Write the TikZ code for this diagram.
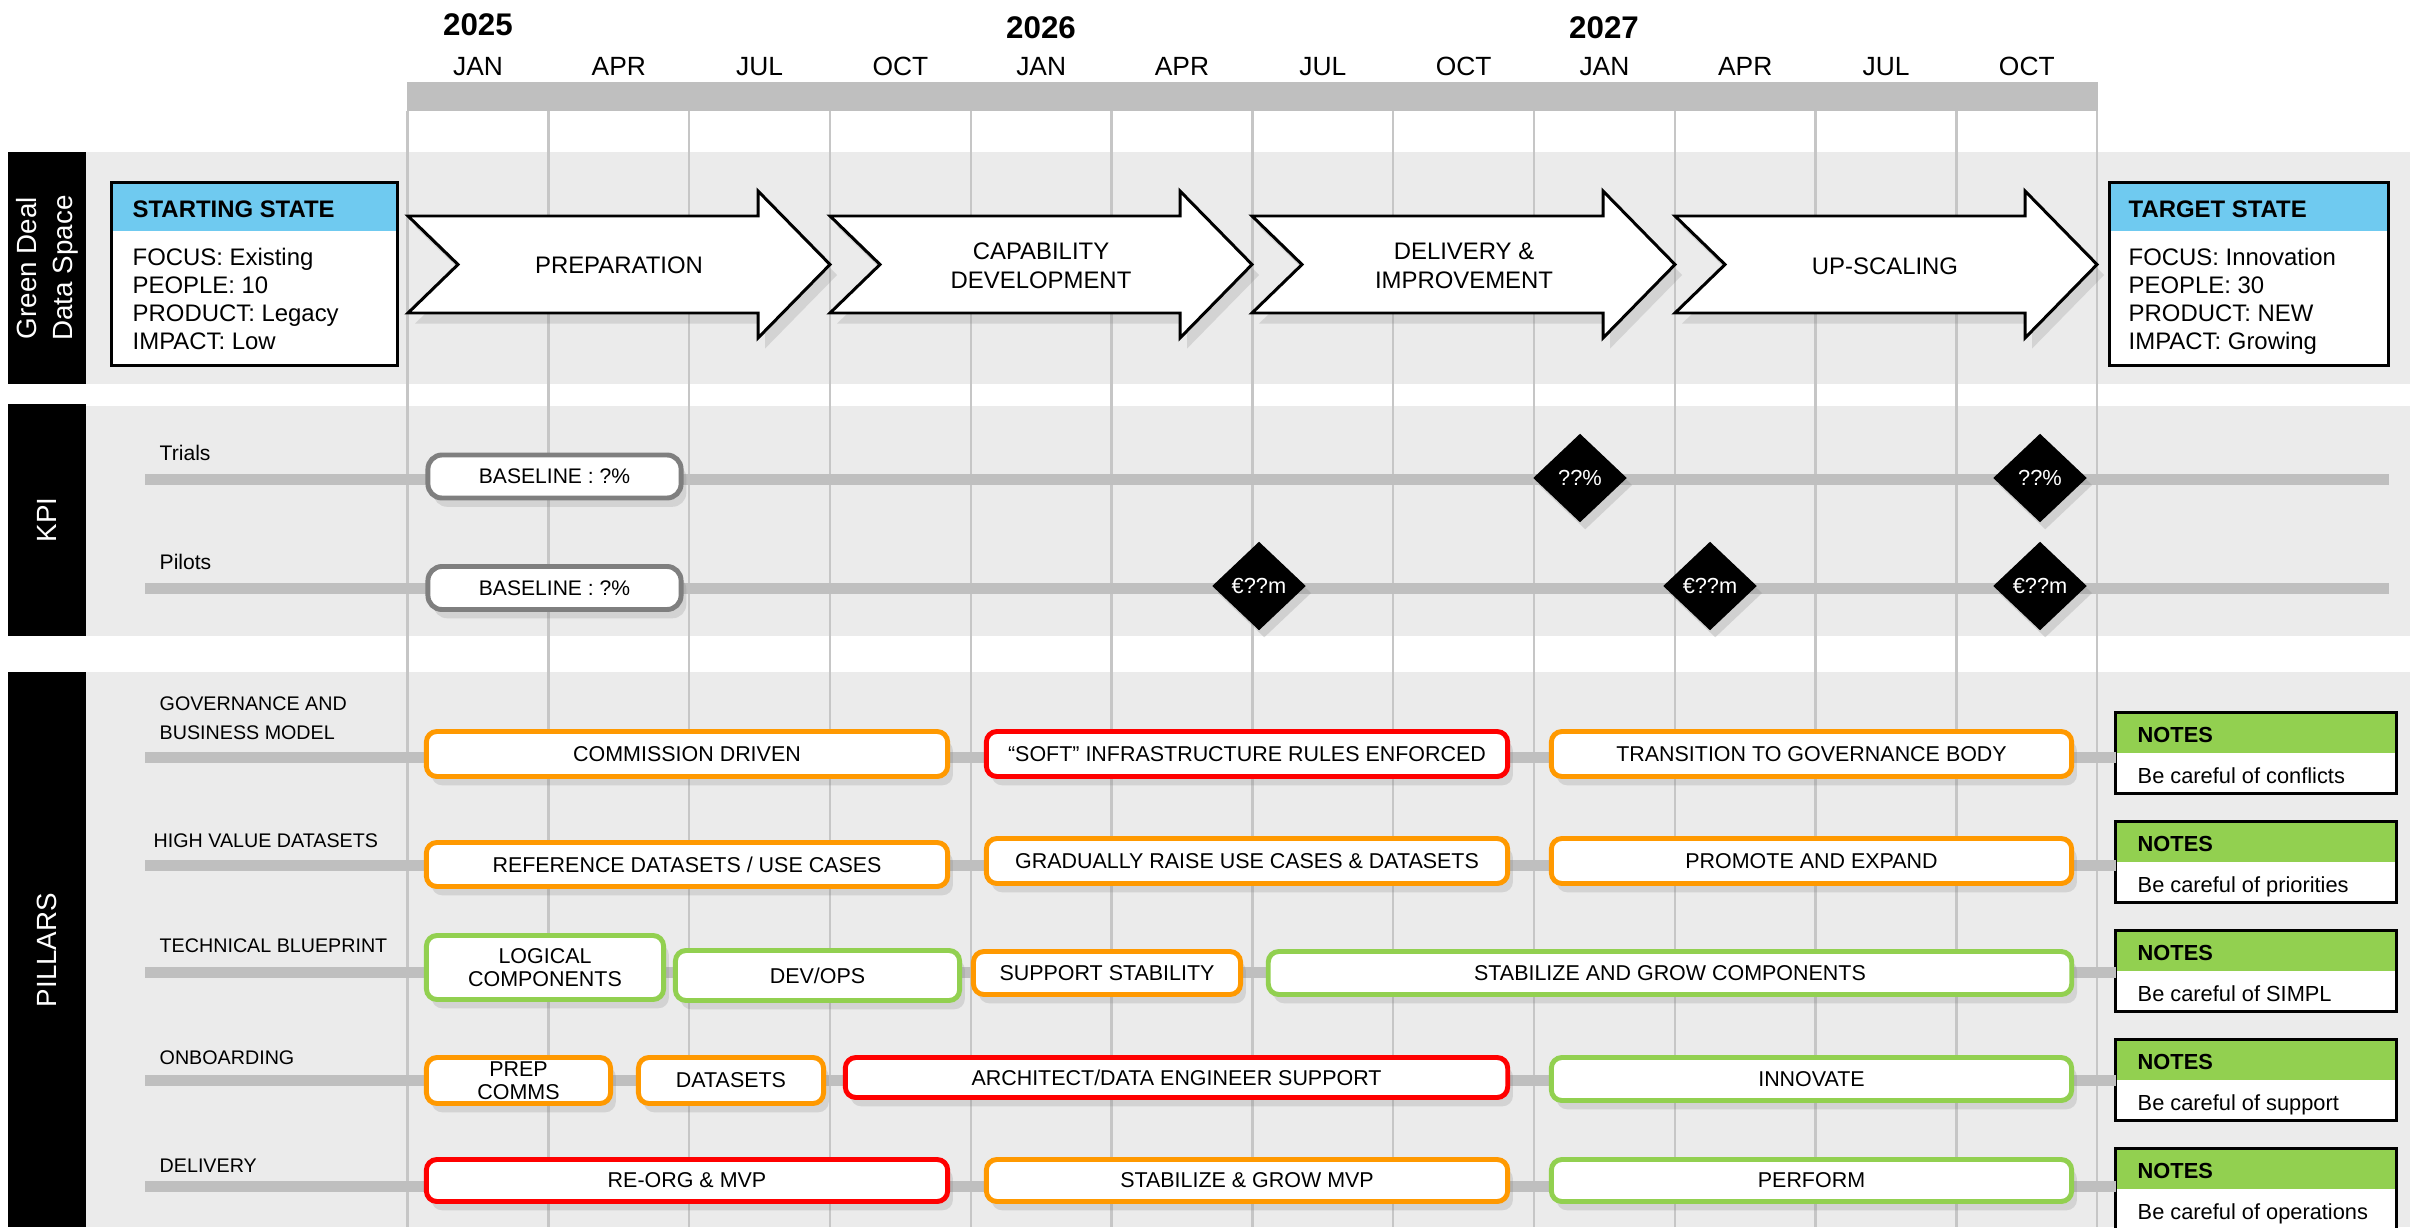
\documentclass[tikz,border=0pt]{standalone}
\usepackage{fontspec}
\setmainfont{Liberation Sans}
\usetikzlibrary{shapes.geometric,shadows}
\definecolor{bandGrey}{RGB}{235,235,235}
\definecolor{trackGrey}{RGB}{191,191,191}
\definecolor{gridGrey}{RGB}{198,198,198}
\definecolor{frameGrey}{RGB}{127,127,127}
\definecolor{stateBlue}{RGB}{111,202,240}
\definecolor{noteGreen}{RGB}{146,208,80}
\definecolor{boxOrange}{RGB}{255,153,0}
\definecolor{boxRed}{RGB}{255,0,0}
\definecolor{boxGreen}{RGB}{146,208,80}

\begin{document}
\begin{tikzpicture}[x=0.01cm, y=-0.01cm,
    sidelabel/.style={text=white, rotate=90, align=center, font=\fontsize{7.9}{10.2}\selectfont},
    gridline/.style={draw=gridGrey, line width=0.7pt},
    track/.style={draw=trackGrey, line width=0.11cm},
    yearlabel/.style={font=\bfseries\fontsize{8.9}{10}\selectfont},
    monthlabel/.style={font=\fontsize{7.5}{9}\selectfont},
    phasearrow/.style={draw=black, line width=0.85pt, fill=white, drop shadow={shadow xshift=2pt, shadow yshift=-3pt, opacity=0.22}},
    phaselabel/.style={align=center, font=\fontsize{6.8}{8.25}\selectfont},
    statetext/.style={anchor=base west, inner sep=0pt, font=\fontsize{6.8}{8}\selectfont},
    statetitle/.style={statetext, font=\bfseries\fontsize{6.8}{8}\selectfont},
    rowlabel/.style={anchor=base west, inner sep=0pt, font=\fontsize{5.6}{7}\selectfont},
    kpilabel/.style={anchor=base west, inner sep=0pt, font=\fontsize{6}{7}\selectfont},
    pillarbox/.style={draw, line width=1.4pt, fill=white, rounded corners=3pt, inner sep=0pt, align=center,
        font=\fontsize{6.1}{6.7}\selectfont, drop shadow={shadow xshift=1.5pt, shadow yshift=-2.5pt, opacity=0.22}},
    orangebox/.style={pillarbox, draw=boxOrange},
    redbox/.style={pillarbox, draw=boxRed},
    greenbox/.style={pillarbox, draw=boxGreen},
    basebox/.style={pillarbox, draw=frameGrey, rounded corners=4pt, font=\fontsize{6}{7}\selectfont},
    kpidiamond/.style={diamond, fill=black, text=white, inner sep=0pt, minimum width=0.94cm, minimum height=0.89cm,
        font=\fontsize{6.2}{7}\selectfont, drop shadow={shadow xshift=1.5pt, shadow yshift=-2pt, opacity=0.25}},
    notebox/.style={fill=white, inner sep=0pt, minimum width=2.79cm, minimum height=0.79cm},
    notetitle/.style={anchor=base west, inner sep=0pt, font=\bfseries\fontsize{6.2}{7}\selectfont},
    notetext/.style={anchor=base west, inner sep=0pt, font=\fontsize{6.2}{7}\selectfont},
    frame/.style={draw=black, line width=0.85pt}
    ]
    \useasboundingbox (0,0) rectangle (2412,1227);
    \clip (0,0) rectangle (2412,1227);
    \fill[white] (0,0) rectangle (2412,1227);

    % background bands
    \fill[bandGrey] (86,152) rectangle (2410,384);
    \fill[bandGrey] (86,406) rectangle (2410,636);
    \fill[bandGrey] (86,672) rectangle (2410,1227);
    \fill[black] (8,152) rectangle (86,384);
    \fill[black] (8,404) rectangle (86,636);
    \fill[black] (8,672) rectangle (86,1227);
    \node[sidelabel] (gdsLabel) at (47,268) {Green Deal\\Data Space};
    \node[sidelabel] (kpiLabel) at (47,520) {KPI};
    \node[sidelabel] (pillarsLabel) at (47,950) {PILLARS};

    % month grid
    \draw[gridline] (407.6,111) -- (407.6,1227);
    \draw[gridline] (548.4,111) -- (548.4,1227);
    \draw[gridline] (689.2,111) -- (689.2,1227);
    \draw[gridline] (830.0,111) -- (830.0,1227);
    \draw[gridline] (970.8,111) -- (970.8,1227);
    \draw[gridline] (1111.6,111) -- (1111.6,1227);
    \draw[gridline] (1252.4,111) -- (1252.4,1227);
    \draw[gridline] (1393.2,111) -- (1393.2,1227);
    \draw[gridline] (1534.0,111) -- (1534.0,1227);
    \draw[gridline] (1674.8,111) -- (1674.8,1227);
    \draw[gridline] (1815.6,111) -- (1815.6,1227);
    \draw[gridline] (1956.4,111) -- (1956.4,1227);
    \draw[gridline] (2097.2,111) -- (2097.2,1227);
    \fill[trackGrey] (406.6,82) rectangle (2098.2,111);

    % years and months
    \node[yearlabel] (y2025) at (478,25) {2025};
    \node[yearlabel] (y2026) at (1041,28) {2026};
    \node[yearlabel] (y2027) at (1604,28) {2027};
    \node[monthlabel] (m01) at (478.0,66.5) {JAN};
    \node[monthlabel] (m02) at (618.8,66.5) {APR};
    \node[monthlabel] (m03) at (759.6,66.5) {JUL};
    \node[monthlabel] (m04) at (900.4,66.5) {OCT};
    \node[monthlabel] (m05) at (1041.2,66.5) {JAN};
    \node[monthlabel] (m06) at (1182.0,66.5) {APR};
    \node[monthlabel] (m07) at (1322.8,66.5) {JUL};
    \node[monthlabel] (m08) at (1463.6,66.5) {OCT};
    \node[monthlabel] (m09) at (1604.4,66.5) {JAN};
    \node[monthlabel] (m10) at (1745.2,66.5) {APR};
    \node[monthlabel] (m11) at (1886.0,66.5) {JUL};
    \node[monthlabel] (m12) at (2026.8,66.5) {OCT};

    % phase arrows
    \draw[phasearrow] (408,216) -- (758,216) -- (758,191) -- (830,264.5) -- (758,338) -- (758,313) -- (408,313) -- (458,264.5) -- cycle;
    \draw[phasearrow] (830,216) -- (1180,216) -- (1180,191) -- (1252,264.5) -- (1180,338) -- (1180,313) -- (830,313) -- (880,264.5) -- cycle;
    \draw[phasearrow] (1252,216) -- (1603,216) -- (1603,191) -- (1675,264.5) -- (1603,338) -- (1603,313) -- (1252,313) -- (1302,264.5) -- cycle;
    \draw[phasearrow] (1675,216) -- (2025,216) -- (2025,191) -- (2097,264.5) -- (2025,338) -- (2025,313) -- (1675,313) -- (1725,264.5) -- cycle;
    \node[phaselabel] (prepLabel) at (619,265) {PREPARATION};
    \node[phaselabel] (capLabel) at (1041,266) {CAPABILITY\\DEVELOPMENT};
    \node[phaselabel] (delivLabel) at (1464,266) {DELIVERY \&\\IMPROVEMENT};
    \node[phaselabel] (scaleLabel) at (1885,266) {UP-SCALING};

    % starting state
    \node[notebox, minimum width=2.84cm, minimum height=1.81cm] (startState) at (254.5,274) {};
    \fill[stateBlue] (112.5,183.5) rectangle (396.5,231);
    \draw[frame] (startState.north west) rectangle (startState.south east);
    \node[statetitle] (startTitle) at (132,217) {STARTING STATE};
    \node[statetext] (startFocus) at (132,265) {FOCUS: Existing};
    \node[statetext] (startPeople) at (132,293.5) {PEOPLE: 10};
    \node[statetext] (startProduct) at (132,321.5) {PRODUCT: Legacy};
    \node[statetext] (startImpact) at (132,349.5) {IMPACT: Low};

    % target state
    \node[notebox, minimum width=2.775cm, minimum height=1.81cm] (targetState) at (2248.75,274) {};
    \fill[stateBlue] (2110,183.5) rectangle (2387.5,231);
    \draw[frame] (targetState.north west) rectangle (targetState.south east);
    \node[statetitle] (targetTitle) at (2128,217) {TARGET STATE};
    \node[statetext] (targetFocus) at (2128,265) {FOCUS: Innovation};
    \node[statetext] (targetPeople) at (2128,293.5) {PEOPLE: 30};
    \node[statetext] (targetProduct) at (2128,321.5) {PRODUCT: NEW};
    \node[statetext] (targetImpact) at (2128,349.5) {IMPACT: Growing};

    % KPI
    \node[kpilabel] (trialsLabel) at (159,460) {Trials};
    \node[kpilabel] (pilotsLabel) at (159,569) {Pilots};
    \coordinate (trialsStart) at (145,479);
    \coordinate (trialsEnd) at (2389,479);
    \coordinate (pilotsStart) at (145,588);
    \coordinate (pilotsEnd) at (2389,588);
    \draw[track] (trialsStart) -- (trialsEnd);
    \draw[track] (pilotsStart) -- (pilotsEnd);
    \node[basebox, minimum width=2.53cm, minimum height=0.43cm] (trialsBase) at (554.5,476.5) {BASELINE : ?\%};
    \node[basebox, minimum width=2.53cm, minimum height=0.43cm] (pilotsBase) at (554.5,588) {BASELINE : ?\%};
    \node[kpidiamond] (trialsMid) at (1580,478) {??\%};
    \node[kpidiamond] (trialsEndGoal) at (2040,478) {??\%};
    \node[kpidiamond] (pilotsFirst) at (1259,586) {€??m};
    \node[kpidiamond] (pilotsMid) at (1710,586) {€??m};
    \node[kpidiamond] (pilotsEndGoal) at (2040,586) {€??m};

    % notes
    \node[notebox] (govNote) at (2256,753) {};
    \fill[noteGreen] (2116.5,713.5) rectangle (2395.5,753);
    \draw[frame] (govNote.north west) rectangle (govNote.south east);
    \node[notetitle] (govNoteTitle) at (2137,742) {NOTES};
    \node[notetext] (govNoteText) at (2137,783) {Be careful of conflicts};

    \node[notebox] (hvdNote) at (2256,862) {};
    \fill[noteGreen] (2116.5,822.5) rectangle (2395.5,862);
    \draw[frame] (hvdNote.north west) rectangle (hvdNote.south east);
    \node[notetitle] (hvdNoteTitle) at (2137,851) {NOTES};
    \node[notetext] (hvdNoteText) at (2137,892) {Be careful of priorities};

    \node[notebox] (techNote) at (2256,971) {};
    \fill[noteGreen] (2116.5,931.5) rectangle (2395.5,971);
    \draw[frame] (techNote.north west) rectangle (techNote.south east);
    \node[notetitle] (techNoteTitle) at (2137,960) {NOTES};
    \node[notetext] (techNoteText) at (2137,1001) {Be careful of SIMPL};

    \node[notebox] (onbNote) at (2256,1080) {};
    \fill[noteGreen] (2116.5,1040.5) rectangle (2395.5,1080);
    \draw[frame] (onbNote.north west) rectangle (onbNote.south east);
    \node[notetitle] (onbNoteTitle) at (2137,1069) {NOTES};
    \node[notetext] (onbNoteText) at (2137,1110) {Be careful of support};

    \node[notebox] (delNote) at (2256,1189) {};
    \fill[noteGreen] (2116.5,1149.5) rectangle (2395.5,1189);
    \draw[frame] (delNote.north west) rectangle (delNote.south east);
    \node[notetitle] (delNoteTitle) at (2137,1178) {NOTES};
    \node[notetext] (delNoteText) at (2137,1219) {Be careful of operations};

    % pillar rows
    \node[rowlabel] (govLabel) at (159,710) {GOVERNANCE AND};
    \node[rowlabel] (govLabelB) at (159,739) {BUSINESS MODEL};
    \node[rowlabel] (hvdLabel) at (153,847) {HIGH VALUE DATASETS};
    \node[rowlabel] (techLabel) at (159,952) {TECHNICAL BLUEPRINT};
    \node[rowlabel] (onbLabel) at (159,1064) {ONBOARDING};
    \node[rowlabel] (delLabel) at (159,1172) {DELIVERY};
    \coordinate (govStart) at (145,757);
    \coordinate (hvdStart) at (145,865);
    \coordinate (techStart) at (145,972);
    \coordinate (onbStart) at (145,1080);
    \coordinate (delStart) at (145,1186);
    \draw[track] (govStart) -- (govStart -| govNote.west);
    \draw[track] (hvdStart) -- (hvdStart -| hvdNote.west);
    \draw[track] (techStart) -- (techStart -| techNote.west);
    \draw[track] (onbStart) -- (onbStart -| onbNote.west);
    \draw[track] (delStart) -- (delStart -| delNote.west);

    % governance and business model
    \node[orangebox, minimum width=5.21cm, minimum height=0.45cm] (govA) at (687,754) {COMMISSION DRIVEN};
    \node[redbox, minimum width=5.21cm, minimum height=0.45cm] (govB) at (1247,754) {“SOFT” INFRASTRUCTURE RULES ENFORCED};
    \node[orangebox, minimum width=5.20cm, minimum height=0.45cm] (govC) at (1811.5,754) {TRANSITION TO GOVERNANCE BODY};

    % high value datasets
    \node[orangebox, minimum width=5.21cm, minimum height=0.44cm] (hvdA) at (687,864.5) {REFERENCE DATASETS / USE CASES};
    \node[orangebox, minimum width=5.21cm, minimum height=0.45cm] (hvdB) at (1247,861) {GRADUALLY RAISE USE CASES \& DATASETS};
    \node[orangebox, minimum width=5.20cm, minimum height=0.45cm] (hvdC) at (1811.5,861) {PROMOTE AND EXPAND};

    % technical blueprint
    \node[greenbox, minimum width=2.37cm, minimum height=0.64cm] (techA) at (545,967.5) {LOGICAL\\COMPONENTS};
    \node[greenbox, minimum width=2.84cm, minimum height=0.50cm] (techB) at (817.5,975.5) {DEV/OPS};
    \node[orangebox, minimum width=2.67cm, minimum height=0.43cm] (techC) at (1107,973) {SUPPORT STABILITY};
    \node[greenbox, minimum width=8.03cm, minimum height=0.43cm] (techD) at (1670,973) {STABILIZE AND GROW COMPONENTS};

    % onboarding
    \node[orangebox, minimum width=1.84cm, minimum height=0.46cm] (onbA) at (518.5,1080.5) {PREP\\COMMS};
    \node[orangebox, minimum width=1.85cm, minimum height=0.46cm] (onbB) at (731,1080.5) {DATASETS};
    \node[redbox, minimum width=6.62cm, minimum height=0.40cm] (onbC) at (1176.5,1077.5) {ARCHITECT/DATA ENGINEER SUPPORT};
    \node[greenbox, minimum width=5.20cm, minimum height=0.43cm] (onbD) at (1811.5,1079) {INNOVATE};

    % delivery
    \node[redbox, minimum width=5.21cm, minimum height=0.42cm] (delA) at (687,1180.5) {RE-ORG \& MVP};
    \node[orangebox, minimum width=5.21cm, minimum height=0.42cm] (delB) at (1247,1180.5) {STABILIZE \& GROW MVP};
    \node[greenbox, minimum width=5.20cm, minimum height=0.42cm] (delC) at (1811.5,1180.5) {PERFORM};

\end{tikzpicture}
\end{document}
